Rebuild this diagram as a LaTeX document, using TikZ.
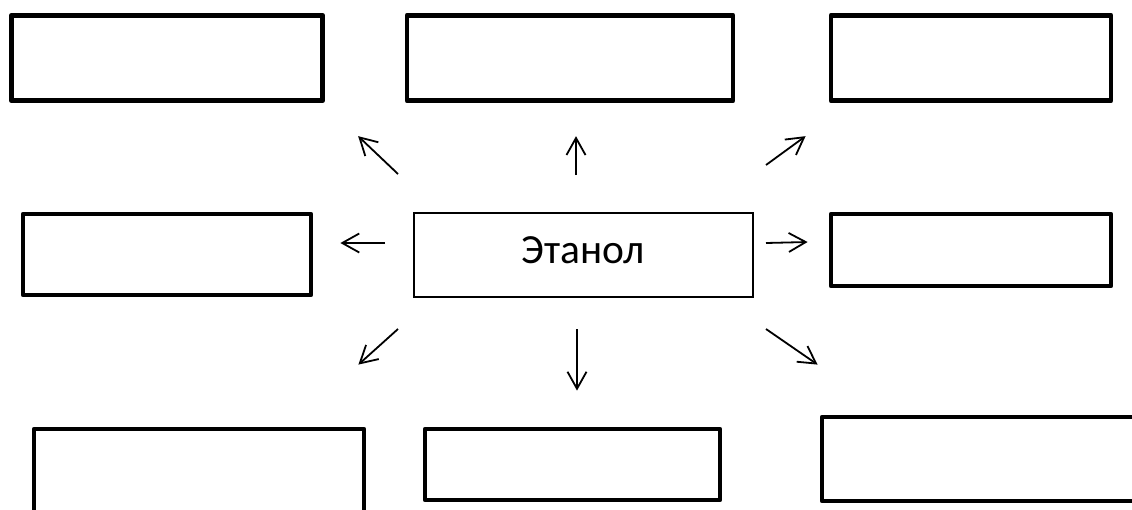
\documentclass[tikz,border=0pt]{standalone}
\usepackage{fontspec}
\setmainfont{Carlito}
\usetikzlibrary{arrows.meta}

\begin{document}
\begin{tikzpicture}[->,>={Straight Barb[length=17pt,width=19pt]},x=1pt,y=-1pt,
                    line width=1.8pt]
  \tikzstyle{every node}=[draw,rectangle,inner sep=0pt]
  \tikzstyle{slot}=[line width=4.8pt,line join=round]
  \useasboundingbox (0,0) rectangle (1132,509);

  \node[slot,minimum width=311.5pt,minimum height=85.5pt] (tl) at (167,58)    {};
  \node[slot,minimum width=326pt,minimum height=85.5pt]   (tm) at (570,58)    {};
  \node[slot,minimum width=280pt,minimum height=85.5pt]   (tr) at (971,58)    {};
  \node[slot,minimum width=288pt,minimum height=81pt]     (ml) at (167,254.5) {};
  \node[slot,minimum width=280pt,minimum height=72pt]     (mr) at (971,250)   {};
  \node[slot,minimum width=330pt,minimum height=83pt]     (bl) at (199,470.5) {};
  \node[slot,minimum width=295pt,minimum height=71pt]     (bm) at (572.5,464.5) {};
  \node[slot,minimum width=323pt,minimum height=84pt]     (br) at (983.5,459) {};
  \node[line width=2pt,minimum width=339pt,minimum height=84pt,
        font=\fontsize{41.5}{50}\selectfont,text depth=10pt] (eth) at (583,255) {Этанол};

  \draw ([shift={(-14.5,-38)}]eth.north west) -- ([shift={(33,33)}]tl.south east);
  \draw ([shift={(-7,-37)}]eth.north)         -- ([shift={(6,33)}]tm.south);
  \draw ([shift={(12.5,-47)}]eth.north east)  -- ([shift={(-23,33)}]tr.south west);
  \draw ([shift={(-27.5,-12)}]eth.west)       -- ([shift={(27,-11.5)}]ml.east);
  \draw ([shift={(12.5,-12)}]eth.east)        -- ([shift={(-21,-8)}]mr.west);
  \draw ([shift={(-14.5,31)}]eth.south west)  -- ([shift={(-8,-62)}]bl.north east);
  \draw ([shift={(-6,31)}]eth.south)          -- ([shift={(4.5,-36)}]bm.north);
  \draw ([shift={(12.5,31)}]eth.south east)   -- ([shift={(-2,-50)}]br.north west);
\end{tikzpicture}
\end{document}
